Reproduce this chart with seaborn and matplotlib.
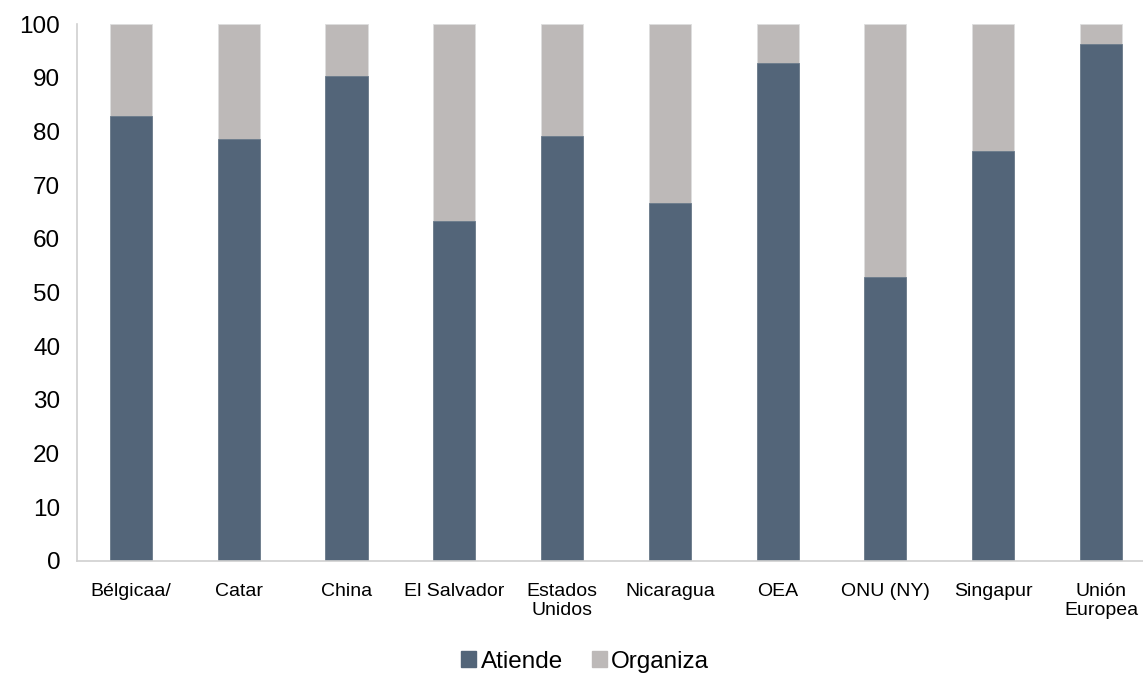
import numpy as np
import pandas as pd
import matplotlib
matplotlib.use("Agg")
import matplotlib.pyplot as plt
import seaborn as sns
from matplotlib.patches import Patch
from matplotlib.ticker import MultipleLocator

paises = ["Bélgicaa/", "Catar", "China", "El Salvador", "Estados\nUnidos",
          "Nicaragua", "OEA", "ONU (NY)", "Singapur", "Unión\nEuropea"]
atiende = [82.9, 78.6, 90.3, 63.4, 79.1, 66.7, 92.8, 52.9, 76.4, 96.3]
organiza = [17.1, 21.4, 9.7, 36.6, 20.9, 33.3, 7.2, 47.1, 23.6, 3.7]

color_atiende = "#536579"
color_organiza = "#BDB9B8"

df = pd.DataFrame({"pais": paises, "Atiende": atiende, "Organiza": organiza})
df["total"] = df["Atiende"] + df["Organiza"]

sns.set_style("white")
plt.rcParams["font.family"] = ["Liberation Sans", "DejaVu Sans"]
plt.rcParams["text.color"] = "black"
plt.rcParams["xtick.labelcolor"] = "black"
plt.rcParams["ytick.labelcolor"] = "black"

fig = plt.figure(figsize=(11.43, 6.78), dpi=100)
ax = fig.add_axes([0.0674, 0.1726, 0.943, 0.792])

sns.barplot(data=df, x="pais", y="total", color=color_organiza, width=0.39,
            saturation=1, edgecolor="#dedede", linewidth=0.6, ax=ax)
sns.barplot(data=df, x="pais", y="Atiende", color=color_atiende, width=0.39,
            saturation=1, edgecolor="#6b7b8c", linewidth=0.6, ax=ax)

ax.set_xlim(-0.5, len(paises) - 0.5)
ax.set_ylim(0, 100)
ax.yaxis.set_major_locator(MultipleLocator(10))
ax.set_xlabel("")
ax.set_ylabel("")

for s in ["top", "right"]:
    ax.spines[s].set_visible(False)
for s in ["left", "bottom"]:
    ax.spines[s].set_color("#d0d0d0")
    ax.spines[s].set_linewidth(1.2)

ax.tick_params(axis="y", labelsize=17.5, length=6, color="#d0d0d0", direction="out", pad=6)
ax.tick_params(axis="x", which="major", labelsize=14, length=0, pad=16, labelcolor="black")
ax.set_xticks(np.arange(-0.5, len(paises), 1), minor=True)
ax.tick_params(axis="x", which="minor", length=5, color="#d0d0d0", direction="out")
for lbl in ax.get_xticklabels():
    lbl.set_linespacing(1.15)

handles = [Patch(color=color_atiende, label="Atiende"),
           Patch(color=color_organiza, label="Organiza")]
fig.legend(handles=handles, loc="center", bbox_to_anchor=(0.512, 0.024), ncol=2,
           frameon=False, fontsize=17.5, handlelength=0.6, handleheight=0.6,
           handletextpad=0.2, columnspacing=1.2, borderpad=0.1)

fig.savefig("out.png", dpi=100)
